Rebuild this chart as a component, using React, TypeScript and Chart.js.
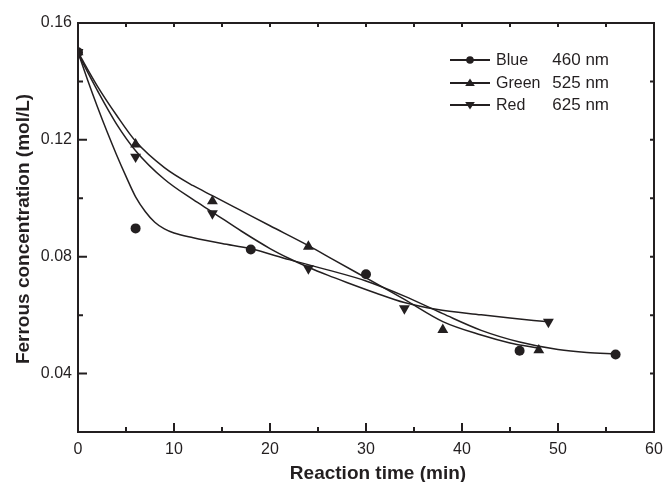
import React, { useEffect, useRef } from 'react';
import { Chart, registerables } from 'chart.js';

Chart.register(...registerables);

const INK = '#231f20';
const FONT = '"Liberation Sans", Arial, Helvetica, sans-serif';

// Measured points
const blueTime = [0, 6, 18, 30, 46, 56];
const blueConc = [0.150, 0.0897, 0.0825, 0.074, 0.0478, 0.0465];
const greenTime = [0, 6, 14, 24, 38, 48];
const greenConc = [0.150, 0.1185, 0.099, 0.0835, 0.055, 0.048];
const redTime = [0, 6, 14, 24, 34, 49];
const redConc = [0.150, 0.1142, 0.0948, 0.076, 0.0623, 0.0577];

// Fitted curves
const blueFitTime = [0, 1, 2, 3, 4, 5, 6, 7, 8, 9, 10, 12, 15, 18, 22, 26, 30, 34, 38, 42, 46, 50, 53, 56];
const blueFitConc = [0.150, 0.1405, 0.1315, 0.123, 0.115, 0.1075, 0.1005, 0.0955, 0.0918, 0.0895, 0.0881, 0.0865, 0.0845, 0.0827, 0.079, 0.0755, 0.0717, 0.0665, 0.0605, 0.0548, 0.0508, 0.0482, 0.0472, 0.0468];
const greenFitTime = [0, 2, 4, 6, 9, 12, 14, 16.8, 20, 24, 26.5, 29, 31.5, 34, 38, 42, 45, 48];
const greenFitConc = [0.150, 0.1385, 0.1285, 0.1195, 0.1105, 0.1043, 0.1009, 0.0961, 0.0906, 0.0838, 0.0792, 0.0746, 0.0700, 0.0654, 0.0578, 0.0532, 0.0505, 0.0487];
const redFitTime = [0, 2, 4, 6, 9, 12, 14, 17, 20, 22, 24, 26, 28, 31, 34, 37.3, 42, 45, 48.7];
const redFitConc = [0.1495, 0.137, 0.1255, 0.1163, 0.1065, 0.0995, 0.0953, 0.0888, 0.0828, 0.0794, 0.0764, 0.0737, 0.0712, 0.0676, 0.0643, 0.062, 0.0601, 0.059, 0.0578];

// Axis ticks
const xMajorTicks = [0, 10, 20, 30, 40, 50, 60];
const xMinorTicks = [5, 15, 25, 35, 45, 55];
const yMajorTicks = [0.04, 0.08, 0.12, 0.16];
const yMinorTicks = [0.06, 0.10, 0.14];

// Legend
const legendNames = ['Blue', 'Green', 'Red'];
const legendWaves = ['460 nm', '525 nm', '625 nm'];

const pts = (xs: number[], ys: number[]) => xs.map((x, i) => ({ x, y: ys[i] }));

const decorPlugin = {
  id: 'decor',
  afterDatasetsDraw(chart: any) {
    const { ctx, chartArea: a, scales } = chart;
    const xs = scales.x;
    const ys = scales.y;
    ctx.save();
    ctx.strokeStyle = INK;
    ctx.fillStyle = INK;
    // frame
    ctx.lineWidth = 2;
    ctx.beginPath();
    ctx.rect(a.left, a.top, a.right - a.left, a.bottom - a.top);
    ctx.stroke();
    ctx.beginPath();
    xMajorTicks.forEach((v) => {
      const p = xs.getPixelForValue(v);
      ctx.moveTo(p, a.bottom);
      ctx.lineTo(p, a.bottom - 9);
    });
    xMinorTicks.forEach((v) => {
      const p = xs.getPixelForValue(v);
      ctx.moveTo(p, a.bottom);
      ctx.lineTo(p, a.bottom - 5);
    });
    [...xMinorTicks, ...xMajorTicks.slice(1, -1)].forEach((v) => {
      const p = xs.getPixelForValue(v);
      ctx.moveTo(p, a.top);
      ctx.lineTo(p, a.top + 4);
    });
    yMajorTicks.forEach((v) => {
      const p = ys.getPixelForValue(v);
      ctx.moveTo(a.left, p);
      ctx.lineTo(a.left + 9, p);
    });
    yMinorTicks.forEach((v) => {
      const p = ys.getPixelForValue(v);
      ctx.moveTo(a.left, p);
      ctx.lineTo(a.left + 5, p);
    });
    [...yMajorTicks.slice(0, -1), ...yMinorTicks].forEach((v) => {
      const p = ys.getPixelForValue(v);
      ctx.moveTo(a.right, p);
      ctx.lineTo(a.right - 4, p);
    });
    ctx.stroke();

    // axis titles
    ctx.font = `bold 19px ${FONT}`;
    ctx.textAlign = 'center';
    ctx.textBaseline = 'alphabetic';
    ctx.fillText('Reaction time (min)', 378, 479);
    ctx.save();
    ctx.translate(29, 229);
    ctx.rotate(-Math.PI / 2);
    ctx.fillText('Ferrous concentration (mol/L)', 0, 0);
    ctx.restore();

    // legend
    const rows = [60, 83, 105];
    rows.forEach((y, i) => {
      ctx.lineWidth = 2;
      ctx.beginPath();
      ctx.moveTo(450, y);
      ctx.lineTo(490, y);
      ctx.stroke();
      ctx.beginPath();
      if (i === 0) {
        ctx.arc(470, y, 3.8, 0, Math.PI * 2);
      } else if (i === 1) {
        ctx.moveTo(470, y - 4.5);
        ctx.lineTo(474.8, y + 3);
        ctx.lineTo(465.2, y + 3);
      } else {
        ctx.moveTo(470, y + 4.5);
        ctx.lineTo(474.8, y - 3);
        ctx.lineTo(465.2, y - 3);
      }
      ctx.closePath();
      ctx.fill();
      ctx.textAlign = 'left';
      ctx.font = `16px ${FONT}`;
      ctx.fillText(legendNames[i], 496, y + 5);
      ctx.textAlign = 'right';
      ctx.font = `17px ${FONT}`;
      ctx.fillText(legendWaves[i], 609, y + 5);
    });
    ctx.restore();
  },
};

export default function App() {
  const ref = useRef<HTMLCanvasElement>(null);
  useEffect(() => {
    const markerBase = {
      showLine: false,
      backgroundColor: INK,
      borderColor: INK,
      borderWidth: 0,
      pointBorderWidth: 0,
    };
    const lineBase = {
      showLine: true,
      pointRadius: 0,
      borderColor: INK,
      borderWidth: 1.5,
      cubicInterpolationMode: 'monotone' as const,
      fill: false,
    };
    const chart = new Chart(ref.current!, {
      type: 'scatter',
      data: {
        datasets: [
          { ...markerBase, label: 'Blue', data: pts(blueTime, blueConc), pointStyle: 'circle', pointRadius: 5 },
          { ...markerBase, label: 'Green', data: pts(greenTime, greenConc), pointStyle: 'triangle', pointRadius: 6.3 },
          { ...markerBase, label: 'Red', data: pts(redTime, redConc), pointStyle: 'triangle', pointRadius: 6.3, pointRotation: 180 },
          { ...lineBase, label: 'Blue fit', data: pts(blueFitTime, blueFitConc) },
          { ...lineBase, label: 'Green fit', data: pts(greenFitTime, greenFitConc) },
          { ...lineBase, label: 'Red fit', data: pts(redFitTime, redFitConc) },
        ] as any,
      },
      options: {
        responsive: false,
        animation: false,
        devicePixelRatio: 1,
        layout: { padding: { left: 0, top: 23, right: 9, bottom: 0 } },
        plugins: { legend: { display: false }, tooltip: { enabled: false } },
        scales: {
          x: {
            type: 'linear',
            min: 0,
            max: 60,
            grid: { display: false, drawTicks: false },
            border: { display: false },
            ticks: { stepSize: 10, padding: 8, color: INK, font: { family: FONT, size: 16 } },
            afterFit: (s: any) => { s.height = 50; s.paddingLeft = 0; s.paddingRight = 0; },
          },
          y: {
            type: 'linear',
            min: 0.02,
            max: 0.16,
            grid: { display: false, drawTicks: false },
            border: { display: false },
            ticks: {
              stepSize: 0.02,
              padding: 6,
              color: INK,
              font: { family: FONT, size: 16 },
              callback: (v: any) => {
                const n = Math.round(Number(v) * 100);
                return n % 4 === 0 && n > 2 ? Number(v).toFixed(2) : '';
              },
            },
            afterFit: (s: any) => { s.width = 78; s.paddingTop = 0; s.paddingBottom = 0; },
          },
        },
      },
      plugins: [decorPlugin],
    });
    return () => chart.destroy();
  }, []);
  return (
    <div style={{ position: 'fixed', left: 0, top: 0, width: 663, height: 482, background: '#fff' }}>
      <canvas ref={ref} width={663} height={482} style={{ display: 'block' }} />
    </div>
  );
}
